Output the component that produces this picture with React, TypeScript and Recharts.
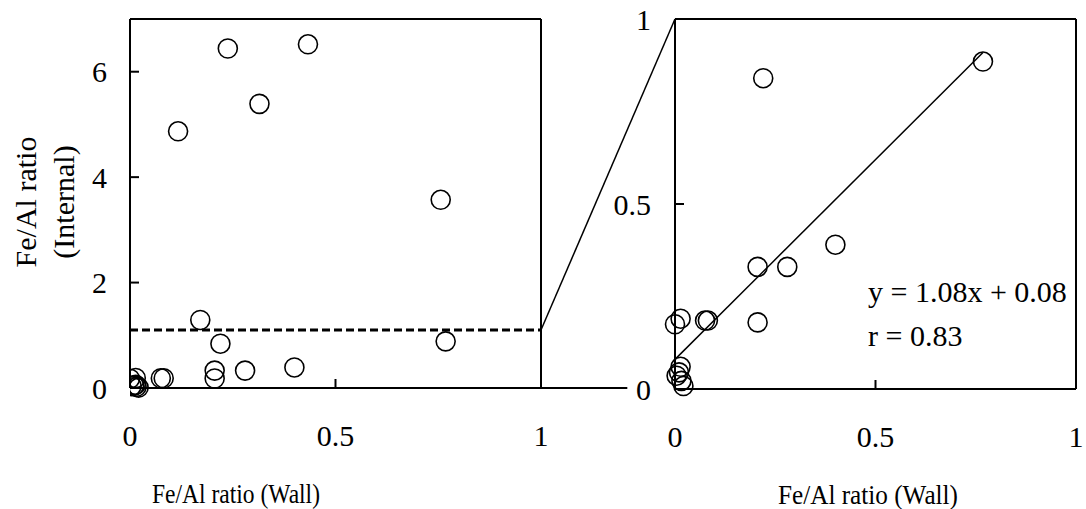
import React from "react";
import { ScatterChart, Scatter, XAxis, YAxis, ReferenceLine } from "recharts";

// Fe/Al ratio: wall (x) vs internal (y)
const wallRatio = [0.117, 0.171, 0.238, 0.315, 0.433, 0.756, 0.22, 0.768, 0.4, 0.206, 0.28, 0.206, 0.075, 0.082, 0.014, 0.0, 0.014, 0.004, 0.01, 0.016, 0.021];
const internalRatio = [4.87, 1.29, 6.44, 5.39, 6.52, 3.57, 0.84, 0.885, 0.39, 0.33, 0.33, 0.18, 0.185, 0.185, 0.19, 0.175, 0.06, 0.036, 0.045, 0.022, 0.008];

const xTicks = [0, 0.5, 1];
const leftYTicks = [0, 2, 4, 6];
const rightYTicks = [0, 0.5, 1];
const thresholdY = 1.1;
const fitSlope = 1.08;
const fitIntercept = 0.08;

const points = wallRatio.map((x, i) => ({ x, y: internalRatio[i] }));
const zoomPoints = points.filter((p) => p.y <= 1);
const fitStartX = Math.min(...zoomPoints.map((p) => p.x));
const fitEndX = Math.max(...zoomPoints.map((p) => p.x));

const FONT = "'Liberation Serif', 'Times New Roman', serif";
const FS = 30;
const tickStyle = { fill: "#000", fontSize: FS, fontFamily: FONT };

// layout of the two plot boxes (page pixels)
const LEFT_PLOT_X = 130;
const LEFT_PLOT_RIGHT = 541;
const RIGHT_PLOT_X = 675;
const PLOT_TOP = 19;
const LEFT_X_MAX = 1.21;
const LEFT_Y_MAX = 7;
const leftUnit = (LEFT_PLOT_RIGHT - LEFT_PLOT_X) / 1;

const Ring = (p: any) => (
  <circle cx={p.cx} cy={p.cy} r={9.5} fill="none" stroke="#000" strokeWidth={1.6} />
);

export default function App() {
  const leftWidth = 700;
  const leftPlotW = LEFT_X_MAX * leftUnit;
  // where the right box's top-left corner lands in the left chart's data units
  const cornerX = (RIGHT_PLOT_X - LEFT_PLOT_X) / leftUnit;

  return (
    <div style={{ position: "absolute", left: 0, top: 0, width: 1086, height: 509, background: "#fff" }}>
      <div style={{ position: "absolute", left: 0, top: 0 }}>
        <ScatterChart
          width={leftWidth}
          height={509}
          margin={{ top: PLOT_TOP, left: 0, right: leftWidth - LEFT_PLOT_X - leftPlotW, bottom: 0 }}
        >
          <XAxis
            type="number"
            dataKey="x"
            domain={[0, LEFT_X_MAX]}
            ticks={xTicks}
            tickSize={-9}
            tickMargin={46}
            height={121}
            tick={tickStyle}
            stroke="#000"
            strokeWidth={2}
            allowDataOverflow
          />
          <YAxis
            type="number"
            dataKey="y"
            domain={[0, LEFT_Y_MAX]}
            ticks={leftYTicks}
            tickSize={-9}
            tickMargin={32}
            width={LEFT_PLOT_X}
            tick={tickStyle}
            stroke="#000"
            strokeWidth={2}
          />
          <ReferenceLine segment={[{ x: 0, y: LEFT_Y_MAX }, { x: 1, y: LEFT_Y_MAX }]} stroke="#000" strokeWidth={2} />
          <ReferenceLine segment={[{ x: 1, y: 0 }, { x: 1, y: LEFT_Y_MAX }]} stroke="#000" strokeWidth={2} />
          <ReferenceLine
            segment={[{ x: 0, y: thresholdY }, { x: 1, y: thresholdY }]}
            stroke="#000"
            strokeWidth={3}
            strokeDasharray="8 4"
          />
          <ReferenceLine
            segment={[{ x: 1, y: thresholdY }, { x: cornerX, y: LEFT_Y_MAX }]}
            stroke="#000"
            strokeWidth={1.5}
            ifOverflow="visible"
          />
          <Scatter data={points} shape={Ring} isAnimationActive={false} />
        </ScatterChart>
      </div>

      <div style={{ position: "absolute", left: 540, top: 0 }}>
        <ScatterChart width={546} height={509} margin={{ top: PLOT_TOP, left: 0, right: 10, bottom: 0 }}>
          <XAxis
            type="number"
            dataKey="x"
            domain={[0, 1]}
            ticks={xTicks}
            tickSize={-9}
            tickMargin={46}
            height={120}
            tick={tickStyle}
            stroke="#000"
            strokeWidth={2}
          />
          <YAxis
            type="number"
            dataKey="y"
            domain={[0, 1]}
            ticks={rightYTicks}
            tickSize={-9}
            tickMargin={33}
            width={RIGHT_PLOT_X - 540}
            tick={tickStyle}
            stroke="#000"
            strokeWidth={2}
          />
          <ReferenceLine y={1} stroke="#000" strokeWidth={2} />
          <ReferenceLine x={1} stroke="#000" strokeWidth={2} />
          <ReferenceLine
            segment={[
              { x: fitStartX, y: fitSlope * fitStartX + fitIntercept },
              { x: fitEndX, y: fitSlope * fitEndX + fitIntercept },
            ]}
            stroke="#000"
            strokeWidth={1.5}
          />
          <Scatter data={zoomPoints} shape={Ring} isAnimationActive={false} />
        </ScatterChart>
      </div>

      <svg width={1086} height={509} style={{ position: "absolute", left: 0, top: 0, pointerEvents: "none" }}>
        <g fontFamily={FONT} fontSize={FS}>
          <text x={25} y={202} fill="#000" transform="rotate(-90 25 202)" textAnchor="middle" dominantBaseline="central">
            Fe/Al ratio
          </text>
          <text x={63} y={202} fill="#000" transform="rotate(-90 63 202)" textAnchor="middle" dominantBaseline="central">
            (Internal)
          </text>
          <text
            x={236}
            y={493}
            fill="#000"
            fontSize={28}
            textAnchor="middle"
            dominantBaseline="central"
            textLength={168}
            lengthAdjust="spacingAndGlyphs"
          >
            Fe/Al ratio (Wall)
          </text>
          <text
            x={868}
            y={494}
            fill="#000"
            fontSize={28}
            textAnchor="middle"
            dominantBaseline="central"
            textLength={180}
            lengthAdjust="spacingAndGlyphs"
          >
            Fe/Al ratio (Wall)
          </text>
          <text x={868} y={302} fill="#000">y = 1.08x + 0.08</text>
          <text x={868} y={346} fill="#000">r = 0.83</text>
        </g>
      </svg>
    </div>
  );
}
